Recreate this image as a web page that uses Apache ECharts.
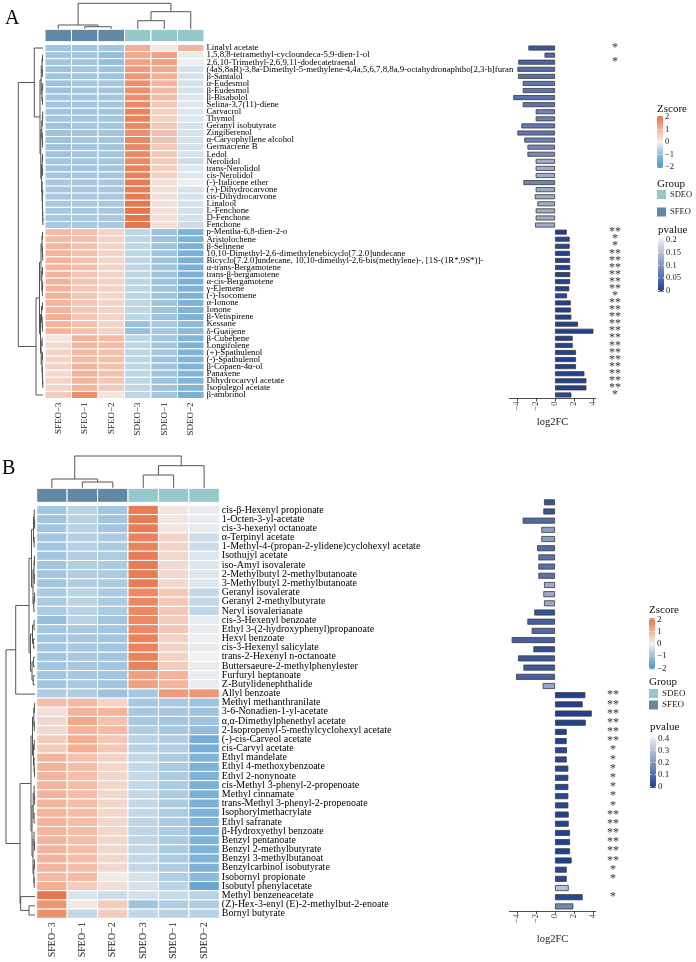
<!DOCTYPE html>
<html>
<head>
<meta charset="utf-8">
<script src="https://cdn.jsdelivr.net/npm/echarts@6/dist/echarts.min.js"></script>
<style>
  html, body { margin: 0; padding: 0; background: #fff; }
  #chart { width: 696px; height: 962px; }
</style>
</head>
<body>
<div id="chart"></div>
<script>
// ---- data ----
const samples = ['SFEO−3', 'SFEO−1', 'SFEO−2', 'SDEO−3', 'SDEO−1', 'SDEO−2'];
const sampleGroups = ['SFEO', 'SFEO', 'SFEO', 'SDEO', 'SDEO', 'SDEO'];

const compoundsA = [
    'Linalyl acetate', '1,5,8,8-tetramethyl-cycloundeca-5,9-dien-1-ol', '2,6,10-Trimethyl-2,6,9,11-dodecatetraenal',
    '(4aS,8aR)-3,8a-Dimethyl-5-methylene-4,4a,5,6,7,8,8a,9-octahydronaphtho[2,3-b]furan', 'β-Santalol', 'α-Eudesmol',
    'β-Eudesmol', 'β-Bisabolol', 'Selina-3,7(11)-diene', 'Carvacrol', 'Thymol', 'Geranyl isobutyrate', 'Zingiberenol',
    'α-Caryophyllene alcohol', 'Germacrene B', 'Ledol', 'Nerolidol', 'trans-Nerolidol', 'cis-Nerolidol',
    '(-)-Italicene ether', '(+)-Dihydrocarvone', 'cis-Dihydrocarvone', 'Linalool', 'L-Fenchone', 'D-Fenchone', 'Fenchone',
    'p-Mentha-6,8-dien-2-o', 'Aristolochene', 'β-Selinene', '10,10-Dimethyl-2,6-dimethylenebicyclo[7.2.0]undecane',
    'Bicyclo[7.2.0]undecane, 10,10-dimethyl-2,6-bis(methylene)-, [1S-(1R*,9S*)]-', 'α-trans-Bergamotene',
    'trans-β-bergamotene', 'α-cis-Bergamotene', 'γ-Elemene', '(-)-Isocomene', 'α-Ionone', 'Ionone', 'β-Vetispirene',
    'Kessane', 'δ-Guaijene', 'β-Cubebene', 'Longifolene', '(+)-Spathulenol', '(-)-Spathulenol', 'β-Copaen-4α-ol',
    'Panaxene', 'Dihydrocarvyl acetate', 'Isopulegol acetate', 'β-ambrinol'
];

// z-scores per compound: SFEO-3, SFEO-1, SFEO-2, SDEO-3, SDEO-1, SDEO-2
const zscoreA = [
    [-0.85, -0.85, -0.85, 1.1, 0.15, 1.0],
    [-0.85, -0.85, -1.0, 1.2, 1.3, -0.1],
    [-0.85, -0.85, -1.0, 1.3, 1.3, -0.05],
    [-0.9, -0.85, -0.9, 1.4, 1.2, -0.3],
    [-0.9, -0.85, -0.9, 1.5, 1.1, -0.3],
    [-0.9, -0.85, -0.85, 1.6, 1.0, -0.3],
    [-0.9, -0.85, -0.85, 1.6, 0.9, -0.3],
    [-0.85, -0.85, -0.85, 1.6, 0.9, -0.2],
    [-0.85, -0.85, -0.85, 1.7, 0.7, -0.2],
    [-0.85, -0.85, -0.85, 1.8, 0.55, -0.2],
    [-0.85, -0.85, -0.85, 1.8, 0.55, -0.2],
    [-0.9, -0.85, -0.85, 1.7, 0.7, -0.3],
    [-0.9, -0.85, -0.85, 1.6, 0.8, -0.3],
    [-0.9, -0.85, -0.85, 1.7, 0.75, -0.3],
    [-0.9, -0.85, -0.85, 1.7, 0.7, -0.3],
    [-0.9, -0.85, -0.85, 1.7, 0.7, -0.3],
    [-0.85, -0.85, -0.85, 1.7, 0.65, -0.4],
    [-0.85, -0.85, -0.85, 1.8, 0.55, -0.2],
    [-0.85, -0.85, -0.85, 1.8, 0.55, -0.2],
    [-0.8, -0.8, -0.8, 1.9, 0.3, -0.05],
    [-0.8, -0.8, -0.8, 1.9, 0.3, -0.3],
    [-0.8, -0.8, -0.8, 1.9, 0.3, -0.3],
    [-0.8, -0.8, -0.8, 2.0, 0.3, -0.3],
    [-0.8, -0.8, -0.8, 2.0, 0.3, -0.3],
    [-0.8, -0.8, -0.8, 2.0, 0.3, -0.3],
    [-0.8, -0.8, -0.8, 2.0, 0.3, -0.4],
    [0.9, 0.8, 0.5, -0.55, -0.9, -1.3],
    [0.9, 0.8, 0.5, -0.55, -0.9, -1.3],
    [1.0, 0.8, 0.5, -0.55, -0.9, -1.35],
    [1.0, 0.8, 0.5, -0.55, -0.9, -1.35],
    [1.0, 0.8, 0.5, -0.55, -0.9, -1.35],
    [1.0, 0.8, 0.5, -0.55, -0.9, -1.35],
    [1.0, 0.75, 0.5, -0.55, -0.9, -1.35],
    [1.0, 0.75, 0.5, -0.55, -0.9, -1.35],
    [1.0, 0.7, 0.5, -0.55, -0.9, -1.35],
    [1.05, 0.7, 0.45, -0.55, -0.9, -1.3],
    [1.0, 0.7, 0.5, -0.55, -0.9, -1.3],
    [1.0, 0.7, 0.5, -0.55, -0.9, -1.3],
    [1.1, 0.7, 0.5, -0.55, -0.9, -1.3],
    [1.0, 0.8, 0.5, -0.95, -0.8, -1.1],
    [1.0, 0.8, 0.5, -0.95, -0.8, -1.1],
    [0.2, 1.0, 0.9, -0.55, -0.85, -1.25],
    [0.4, 1.0, 0.9, -0.55, -0.85, -1.3],
    [0.5, 0.9, 0.8, -0.55, -0.85, -1.3],
    [0.5, 0.9, 0.8, -0.55, -0.9, -1.25],
    [0.5, 1.0, 0.8, -0.55, -0.9, -1.25],
    [0.4, 1.0, 0.8, -0.55, -0.9, -1.25],
    [0.5, 1.0, 0.7, -0.55, -0.9, -1.25],
    [0.5, 1.0, 0.7, -0.55, -0.9, -1.25],
    [0.6, 1.6, 0.2, -0.55, -0.85, -1.35]
];

const log2fcA = [
    -2.8, -1.1, -3.86, -3.96, -3.9, -3.4, -3.4, -4.39, -3.4, -2.03, -2.03, -3.54, -3.96,
    -3.23, -2.9, -2.9, -2.03, -2.03, -2.03, -3.33, -2.03, -2.14, -1.86, -2.03, -2.03, -2.1,
    1.23, 1.54, 1.54, 1.58, 1.58, 1.6, 1.6, 1.58, 1.5, 1.26, 1.65, 1.68, 1.72,
    2.42, 4.04, 1.86, 1.86, 2.21, 2.21, 2.21, 3.09, 3.3, 3.3, 1.72
];
const pvalueA = [
    0.03, 0.05, 0.045, 0.055, 0.06, 0.065, 0.065, 0.06, 0.065, 0.08, 0.08, 0.07, 0.065,
    0.08, 0.09, 0.09, 0.13, 0.13, 0.13, 0.08, 0.13, 0.13, 0.13, 0.13, 0.13, 0.13,
    0.004, 0.012, 0.012, 0.004, 0.004, 0.004, 0.004, 0.004, 0.004, 0.012, 0.004, 0.004, 0.004,
    0.004, 0.004, 0.004, 0.004, 0.004, 0.004, 0.004, 0.004, 0.004, 0.004, 0.012
];
const starsA = [
    '*', '', '*', '', '', '', '', '', '', '', '', '', '', '', '', '', '', '', '', '', '', '', '', '', '', '',
    '**', '*', '*', '**', '**', '**', '**', '**', '**', '*', '**', '**', '**',
    '**', '**', '**', '**', '**', '**', '**', '**', '**', '**', '*'
];

const compoundsB = [
    'cis-β-Hexenyl propionate', '1-Octen-3-yl-acetate', 'cis-3-hexenyl octanoate', 'α-Terpinyl acetate',
    '1-Methyl-4-(propan-2-ylidene)cyclohexyl acetate', 'Isothujyl acetate', 'iso-Amyl isovalerate',
    '2-Methylbutyl 2-methylbutanoate', '3-Methylbutyl 2-methylbutanoate', 'Geranyl isovalerate',
    'Geranyl 2-methylbutyrate', 'Neryl isovalerianate', 'cis-3-Hexenyl benzoate',
    'Ethyl 3-(2-hydroxyphenyl)propanoate', 'Hexyl benzoate', 'cis-3-Hexenyl salicylate',
    'trans-2-Hexenyl n-octanoate', 'Buttersaeure-2-methylphenylester', 'Furfuryl heptanoate',
    'Z-Butylidenephthalide', 'Allyl benzoate', 'Methyl methanthranilate', '3-6-Nonadien-1-yl-acetate',
    'α,α-Dimethylphenethyl acetate', '2-Isopropenyl-5-methylcyclohexyl acetate', '(-)-cis-Carveol acetate',
    'cis-Carvyl acetate', 'Ethyl mandelate', 'Ethyl 4-methoxybenzoate', 'Ethyl 2-nonynoate',
    'cis-Methyl 3-phenyl-2-propenoate', 'Methyl cinnamate', 'trans-Methyl 3-phenyl-2-propenoate',
    'Isophorylmethacrylate', 'Ethyl safranate', 'β-Hydroxyethyl benzoate', 'Benzyl pentanoate',
    'Benzyl 2-methylbutyrate', 'Benzyl 3-methylbutanoat', 'Benzylcarbinol isobutyrate', 'Isobornyl propionate',
    'Isobutyl phenylacetate', 'Methyl benzeneacetate', '(Z)-Hex-3-enyl (E)-2-methylbut-2-enoate', 'Bornyl butyrate'
];

const zscoreB = [
    [-0.85, -0.6, -0.85, 1.9, 0.2, -0.1],
    [-0.85, -0.6, -0.85, 1.9, 0.2, -0.1],
    [-0.85, -0.6, -0.85, 1.9, 0.2, -0.1],
    [-0.85, -0.65, -0.75, 1.8, 0.5, -0.4],
    [-0.85, -0.65, -0.75, 1.8, 0.5, -0.4],
    [-0.85, -0.7, -0.75, 1.9, 0.4, -0.2],
    [-0.85, -0.7, -0.75, 1.9, 0.4, -0.2],
    [-0.85, -0.7, -0.75, 1.9, 0.4, -0.2],
    [-0.85, -0.7, -0.75, 1.9, 0.4, -0.2],
    [-0.75, -0.6, -0.75, 1.7, 0.7, -0.5],
    [-0.75, -0.6, -0.75, 1.7, 0.7, -0.5],
    [-0.75, -0.6, -0.75, 1.7, 0.7, -0.5],
    [-1.0, -0.6, -0.85, 1.7, 0.6, -0.1],
    [-0.85, -0.8, -0.85, 1.7, 0.7, -0.1],
    [-0.85, -0.8, -0.85, 1.8, 0.5, -0.05],
    [-0.85, -0.8, -0.85, 1.8, 0.5, -0.1],
    [-0.85, -0.8, -0.85, 1.8, 0.5, 0.0],
    [-0.85, -0.8, -0.85, 1.8, 0.6, -0.1],
    [-0.85, -0.8, -0.85, 1.3, 1.0, -0.1],
    [-0.85, -0.8, -0.85, 1.3, 1.0, -0.1],
    [-0.7, -0.7, -0.9, -0.8, 1.4, 1.5],
    [0.8, 0.9, 0.5, -0.8, -0.8, -0.9],
    [0.3, 1.0, 1.0, -0.8, -0.8, -0.9],
    [0.4, 1.2, 0.8, -0.8, -0.85, -0.9],
    [0.4, 1.0, 0.9, -0.7, -0.8, -1.0],
    [0.6, 1.1, 0.7, -0.6, -0.7, -1.4],
    [0.6, 1.1, 0.7, -0.6, -0.7, -1.4],
    [1.0, 0.8, 0.5, -0.5, -0.75, -1.3],
    [1.0, 0.85, 0.45, -0.5, -0.75, -1.3],
    [1.0, 0.85, 0.45, -0.5, -0.75, -1.3],
    [1.0, 0.85, 0.45, -0.5, -0.75, -1.35],
    [1.0, 0.85, 0.45, -0.5, -0.75, -1.35],
    [1.0, 0.85, 0.45, -0.5, -0.75, -1.35],
    [1.0, 0.85, 0.45, -0.5, -0.75, -1.3],
    [1.0, 0.85, 0.45, -0.55, -0.75, -1.3],
    [1.0, 0.85, 0.45, -0.55, -0.75, -1.3],
    [1.0, 0.85, 0.45, -0.55, -0.75, -1.3],
    [1.0, 0.85, 0.45, -0.5, -0.75, -1.3],
    [1.0, 0.85, 0.45, -0.5, -0.75, -1.3],
    [1.0, 0.85, 0.4, -0.5, -0.7, -1.3],
    [0.9, 0.9, 0.1, -0.3, -0.7, -1.1],
    [1.1, 0.6, 0.3, -0.3, -0.6, -1.6],
    [2.0, -0.25, -0.4, -0.3, -0.45, -0.6],
    [1.5, 0.15, 0.6, -0.9, -0.7, -0.7],
    [1.6, -0.5, 0.6, -0.5, -0.6, -0.6]
];

const log2fcB = [
    -1.16, -1.23, -3.4, -1.44, -1.44, -1.89, -1.75, -1.75, -1.75, -1.16, -1.23, -1.16, -2.18,
    -2.91, -2.46, -4.56, -2.28, -3.89, -3.33, -4.1, -1.3,
    3.19, 2.91, 3.86, 3.23, 1.23, 1.23, 1.26, 1.23, 1.4, 1.4, 1.4, 1.4, 1.4, 1.44, 1.44,
    1.58, 1.58, 1.58, 1.75, 1.23, 1.23, 1.44, 2.91, 1.93
];
const pvalueB = [
    0.05, 0.05, 0.1, 0.22, 0.22, 0.1, 0.12, 0.12, 0.12, 0.25, 0.25, 0.25, 0.05,
    0.08, 0.1, 0.08, 0.04, 0.06, 0.06, 0.08, 0.24,
    0.004, 0.004, 0.004, 0.004, 0.004, 0.004, 0.02, 0.02, 0.02, 0.02, 0.02, 0.02, 0.02,
    0.004, 0.004, 0.004, 0.004, 0.004, 0.004, 0.02, 0.02, 0.31, 0.02, 0.17
];
const starsB = [
    '', '', '', '', '', '', '', '', '', '', '', '', '', '', '', '', '', '', '', '', '',
    '**', '**', '**', '**', '**', '**', '*', '*', '*', '*', '*', '*', '*',
    '**', '**', '**', '**', '**', '**', '*', '*', '', '*', ''
];

// dendrograms: [height, left, right], leaves are row / column indices
const colTreeA = [26, [4.3, 0, [2.6, 1, 2]], [17.6, [8.6, 3, 4], 5]];
const colTreeB = [32.3, [9.3, 0, [6.3, 1, 2]], [22.6, [13.3, 3, 4], 5]];

const rowTreeA = [24.7,
    [8.7, 0,
        [3.0,
            [1.8, [0.9, [0.5, 1, 2], [0.6, 3, 4]], [1.0, [0.4, 5, 6], [0.5, 7, 8]]],
            [2.2,
                [1.2, [0.6, [0.3, 9, 10], 11], [0.7, 12, [0.4, 13, 14]]],
                [1.4, [0.8, [0.5, 15, 16], [0.4, 17, 18]],
                    [0.9, 19, [0.6, [0.3, 20, 21], [0.5, 22, [0.2, 23, [0.1, 24, 25]]]]]]]]],
    [7.0,
        [3.5,
            [2.0, [1.0, [0.5, 26, 27], [0.6, 28, [0.3, 29, 30]]], [1.2, [0.5, 31, 32], [0.7, [0.4, 33, 34], 35]]],
            [2.5, [1.5, [0.6, 36, 37], [0.8, 38, [0.5, 39, 40]]],
                [1.8, [0.9, 41, 42], [1.0, [0.5, 43, 44], [0.6, 45, [0.4, 46, [0.2, 47, 48]]]]]]],
        49]];

const rowTreeB = [29,
    [19.3,
        [6.0,
            [3.5, [1.5, [0.8, 0, [0.4, 1, 2]], [0.9, 3, 4]], [2.0, [1.0, [0.5, 5, 6], [0.6, 7, 8]], [1.2, [0.4, 9, 10], 11]]],
            [4.5, [2.5, [1.0, 12, 13], [1.4, 14, 15]], [3.0, [1.5, 16, 17], [1.8, 18, 19]]]],
        20],
    [15,
        [4.0,
            [2.5, [1.2, [0.6, 21, 22], [0.7, 23, 24]], [1.5, [0.8, 25, 26], [0.9, 27, [0.5, 28, 29]]]],
            [3.0, [1.8, [0.9, 30, [0.4, 31, 32]], [1.0, 33, 34]],
                [2.0, [1.0, 35, [0.5, 36, 37]], [1.2, [0.6, 38, 39], [0.8, 40, 41]]]]],
        [14.3, 42, [6, 43, 44]]]];

// ---- styling ----
const FONT = '"Liberation Serif", "Times New Roman", serif';
const Z_STOPS = [[-2, '#4f96cb'], [-1, '#94bedc'], [0, '#f1f1f1'], [1, '#f4b49b'], [2, '#e7764c']];
const P_LOW = '#1f3e8e';
const P_HIGH = '#eeeef4';
const GROUP_COLORS = { SDEO: '#96c8cb', SFEO: '#6288a6' };
const DENDRO_COLOR = '#555';

function hexToRgb(hex) {
    const n = parseInt(hex.slice(1), 16);
    return [(n >> 16) & 255, (n >> 8) & 255, n & 255];
}
function mix(c1, c2, t) {
    const a = hexToRgb(c1), b = hexToRgb(c2);
    return 'rgb(' + a.map((v, i) => Math.round(v + (b[i] - v) * t)).join(',') + ')';
}
function zColor(z) {
    z = Math.max(-2, Math.min(2, z));
    for (let i = 0; i < Z_STOPS.length - 1; i++) {
        const [z0, c0] = Z_STOPS[i], [z1, c1] = Z_STOPS[i + 1];
        if (z <= z1) return mix(c0, c1, (z - z0) / (z1 - z0));
    }
    return Z_STOPS[Z_STOPS.length - 1][1];
}
function pColor(p, pMax) {
    return mix(P_LOW, P_HIGH, Math.min(1, p / pMax));
}

// flatten a dendrogram into segments [pos1, h1, pos2, h2]
function treeSegments(tree) {
    const segs = [];
    function walk(node) {
        if (typeof node === 'number') return { pos: node, h: 0 };
        const [h, a, b] = node;
        const la = walk(a), lb = walk(b);
        segs.push([la.pos, h, lb.pos, h]);
        segs.push([la.pos, la.h, la.pos, h]);
        segs.push([lb.pos, lb.h, lb.pos, h]);
        return { pos: (la.pos + lb.pos) / 2, h };
    }
    walk(tree);
    return segs;
}

// ---- option builders ----
const option = {
    animation: false,
    backgroundColor: '#fff',
    textStyle: { fontFamily: FONT, color: '#111' },
    grid: [], xAxis: [], yAxis: [], series: [], graphic: []
};

function addGrid(rect, xAxis, yAxis) {
    const i = option.grid.length;
    option.grid.push(Object.assign({ containLabel: false }, rect));
    option.xAxis.push(Object.assign({ gridIndex: i }, xAxis));
    option.yAxis.push(Object.assign({ gridIndex: i }, yAxis));
    return i;
}
const hidden = { show: false };

function buildPanel(P) {
    const n = P.compounds.length;

    // column dendrogram
    const gc = addGrid(P.colDendro,
        { type: 'value', min: -0.5, max: 5.5, show: false },
        { type: 'value', min: 0, max: P.colDendro.height, show: false });
    option.series.push({
        type: 'custom', xAxisIndex: gc, yAxisIndex: gc, silent: true,
        data: treeSegments(P.colTree),
        encode: { x: [0, 2], y: [1, 3] },
        renderItem: (params, api) => {
            const p1 = api.coord([api.value(0), api.value(1)]);
            const p2 = api.coord([api.value(2), api.value(3)]);
            return { type: 'line', shape: { x1: p1[0], y1: p1[1], x2: p2[0], y2: p2[1] },
                style: { stroke: DENDRO_COLOR, lineWidth: 1 } };
        }
    });

    // group annotation
    const ga = addGrid(P.annot,
        { type: 'category', data: samples, show: false },
        { type: 'category', data: ['Group'], show: false });
    option.series.push({
        type: 'custom', xAxisIndex: ga, yAxisIndex: ga, silent: true,
        data: sampleGroups.map((g, i) => [i, 0, g]),
        encode: { x: 0, y: 1 },
        renderItem: (params, api) => {
            const c = api.coord([api.value(0), 0]);
            const s = api.size([1, 1]);
            return { type: 'rect', shape: { x: c[0] - s[0] / 2, y: c[1] - s[1] / 2, width: s[0], height: s[1] },
                style: { fill: GROUP_COLORS[sampleGroups[params.dataIndex]], stroke: '#fff', lineWidth: 1 } };
        }
    });

    // heatmap
    const gh = addGrid(P.heat,
        { type: 'category', data: samples, position: 'bottom',
          axisLine: hidden, axisTick: hidden,
          axisLabel: { rotate: 90, interval: 0, margin: 4, fontSize: P.xFont, color: '#222', fontFamily: FONT } },
        { type: 'category', data: P.compounds, inverse: true, position: 'right',
          axisLine: hidden, axisTick: hidden,
          axisLabel: { interval: 0, margin: 2.5, fontSize: P.yFont, color: '#000', fontFamily: FONT } });
    const cells = [];
    P.zscore.forEach((row, r) => row.forEach((z, c) => cells.push([c, r, z])));
    option.series.push({
        type: 'custom', xAxisIndex: gh, yAxisIndex: gh, silent: true,
        data: cells,
        encode: { x: 0, y: 1 },
        renderItem: (params, api) => {
            const c = api.coord([api.value(0), api.value(1)]);
            const s = api.size([1, 1]);
            return { type: 'rect', shape: { x: c[0] - s[0] / 2, y: c[1] - s[1] / 2, width: s[0], height: s[1] },
                style: { fill: zColor(api.value(2)), stroke: '#fff', lineWidth: 1 } };
        }
    });

    // row dendrogram
    const gr = addGrid(P.rowDendro,
        { type: 'value', min: 0, max: P.rowDendro.width, inverse: true, show: false },
        { type: 'value', min: -0.5, max: n - 0.5, inverse: true, show: false });
    option.series.push({
        type: 'custom', xAxisIndex: gr, yAxisIndex: gr, silent: true,
        data: treeSegments(P.rowTree),
        encode: { x: [1, 3], y: [0, 2] },
        renderItem: (params, api) => {
            const p1 = api.coord([api.value(1), api.value(0)]);
            const p2 = api.coord([api.value(3), api.value(2)]);
            return { type: 'line', shape: { x1: p1[0], y1: p1[1], x2: p2[0], y2: p2[1] },
                style: { stroke: DENDRO_COLOR, lineWidth: 1 } };
        }
    });

    // log2FC bars
    const ticks = [-4, -2, 0, 2, 4];
    const gb = addGrid(P.bar,
        { type: 'value', min: -4.81, max: 4.28, splitLine: hidden,
          axisLine: { show: true, onZero: false, lineStyle: { color: '#222', width: 0.8 } },
          axisTick: { show: true, length: 3, customValues: ticks, lineStyle: { color: '#222', width: 0.8 } },
          axisLabel: { customValues: ticks, rotate: 90, margin: 3, fontSize: 8.5, color: '#333', fontFamily: FONT,
                       formatter: v => String(v).replace('-', '−') },
          name: 'log2FC', nameLocation: 'middle', nameGap: P.nameGap,
          nameTextStyle: { fontSize: 10.5, color: '#222', fontFamily: FONT } },
        { type: 'category', data: P.compounds, inverse: true, show: false });
    option.series.push({
        type: 'bar', xAxisIndex: gb, yAxisIndex: gb, barWidth: P.barWidth, silent: true,
        data: P.log2fc.map((v, i) => ({
            value: v,
            itemStyle: { color: pColor(P.pvalue[i], P.pMax), borderColor: '#3a3a3a', borderWidth: 0.8 }
        }))
    });

    // significance stars as axis labels
    addGrid(Object.assign({}, P.bar, { left: P.starX, width: 1 }),
        { type: 'value', show: false },
        { type: 'category', data: P.stars, inverse: true, position: 'left',
          axisLine: hidden, axisTick: hidden,
          axisLabel: { interval: 0, margin: 0, align: 'center', fontSize: 12, color: '#333', fontFamily: FONT } });

    // panel letter
    option.graphic.push({ type: 'text', left: P.letterPos[0], top: P.letterPos[1],
        style: { text: P.letter, font: '20px ' + FONT, fill: '#000' } });

    buildLegend(P.legend);
}

function buildLegend(L) {
    const g = option.graphic;
    const title = (text, x, y) => g.push({ type: 'text', x, y,
        style: { text, font: '11px ' + FONT, fill: '#111', verticalAlign: 'middle' } });
    const label = (text, x, y) => g.push({ type: 'text', x, y,
        style: { text, font: L.labelFont + 'px ' + FONT, fill: '#222', verticalAlign: 'middle' } });
    const tickPair = (x, w, y) => {
        g.push({ type: 'line', shape: { x1: x, y1: y, x2: x + 1.5, y2: y }, style: { stroke: '#fff', lineWidth: 0.8 } });
        g.push({ type: 'line', shape: { x1: x + w - 1.5, y1: y, x2: x + w, y2: y }, style: { stroke: '#fff', lineWidth: 0.8 } });
    };

    // Zscore colorbar
    const zb = L.zbar;
    title('Zscore', zb.x, L.zTitleY);
    const zTop = zb.y0 - (2.08 * zb.scale), zBot = zb.y0 + (2.08 * zb.scale);
    g.push({ type: 'rect', shape: { x: zb.x, y: zTop, width: zb.w, height: zBot - zTop },
        style: { fill: new echarts.graphic.LinearGradient(0, 0, 0, 1,
            Z_STOPS.slice().reverse().map(([z, c]) => ({ offset: (2.08 - z) / 4.16, color: c }))) } });
    [2, 1, 0, -1, -2].forEach(v => {
        const y = zb.y0 - v * zb.scale;
        tickPair(zb.x, zb.w, y);
        label(String(v).replace('-', '−'), zb.x + zb.w + 2, y);
    });

    // Group swatches
    title('Group', zb.x, L.groupTitleY);
    [['SDEO', L.sdeoY], ['SFEO', L.sfeoY]].forEach(([name, y]) => {
        g.push({ type: 'rect', shape: { x: zb.x, y: y - 4.5, width: 9, height: 9 },
            style: { fill: GROUP_COLORS[name] } });
        label(name, zb.x + 13, y);
    });

    // pvalue colorbar
    const pb = L.pbar;
    title('pvalue', zb.x + 1, L.pTitleY);
    g.push({ type: 'rect', shape: { x: pb.x, y: pb.top, width: pb.w, height: pb.y0 + 1.2 - pb.top },
        style: { fill: new echarts.graphic.LinearGradient(0, 0, 0, 1,
            [{ offset: 0, color: P_HIGH }, { offset: 1, color: P_LOW }]) } });
    pb.ticks.forEach(v => {
        const y = pb.y0 - v * pb.scale;
        tickPair(pb.x, pb.w, y);
        label(String(v), pb.x + pb.w + 2, y);
    });
}

// ---- panels ----
buildPanel({
    letter: 'A', letterPos: [5, 9],
    compounds: compoundsA, zscore: zscoreA, log2fc: log2fcA, pvalue: pvalueA, pMax: 0.208, stars: starsA,
    colTree: colTreeA, rowTree: rowTreeA,
    colDendro: { left: 45, top: 0, width: 159, height: 29.3 },
    annot: { left: 45, top: 29.3, width: 159, height: 12.4 },
    heat: { left: 45, top: 44.5, width: 159, height: 354 },
    rowDendro: { left: 3, top: 44.5, width: 40, height: 354 },
    bar: { left: 509.3, top: 44.5, width: 86.4, height: 354 },
    starX: 615, barWidth: 5, nameGap: 18, xFont: 9, yFont: 8.8,
    legend: {
        labelFont: 8.5, zTitleY: 109,
        zbar: { x: 657, w: 6, y0: 142, scale: 12.5 },
        groupTitleY: 184, sdeoY: 194.5, sfeoY: 212,
        pTitleY: 230,
        pbar: { x: 658, w: 6, top: 238, y0: 290.5, scale: 252, ticks: [0.2, 0.15, 0.1, 0.05, 0] }
    }
});

buildPanel({
    letter: 'B', letterPos: [2, 459],
    compounds: compoundsB, zscore: zscoreB, log2fc: log2fcB, pvalue: pvalueB, pMax: 0.413, stars: starsB,
    colTree: colTreeB, rowTree: rowTreeB,
    colDendro: { left: 36.7, top: 450, width: 182.6, height: 38.3 },
    annot: { left: 36.7, top: 488.3, width: 182.6, height: 14 },
    heat: { left: 36.7, top: 505.4, width: 182.6, height: 414.2 },
    rowDendro: { left: 0, top: 505.4, width: 35, height: 414.2 },
    bar: { left: 509.3, top: 497.7, width: 86.4, height: 413.3 },
    starX: 613, barWidth: 6, nameGap: 23, xFont: 10, yFont: 10,
    legend: {
        labelFont: 9, zTitleY: 610,
        zbar: { x: 649, w: 6, y0: 643.8, scale: 12.25 },
        groupTitleY: 682, sdeoY: 693.5, sfeoY: 705,
        pTitleY: 727,
        pbar: { x: 650, w: 6, top: 736.7, y0: 786.7, scale: 121, ticks: [0.4, 0.3, 0.2, 0.1, 0] }
    }
});

const chart = echarts.init(document.getElementById('chart'), null, { renderer: 'canvas' });
chart.setOption(option);
window.addEventListener('resize', () => chart.resize());
</script>
</body>
</html>
